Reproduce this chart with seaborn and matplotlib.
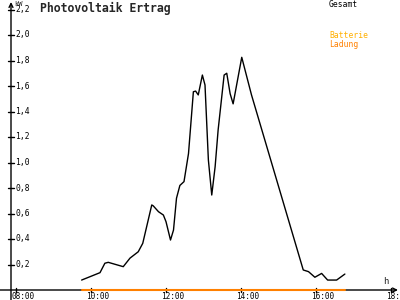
import matplotlib
matplotlib.use("Agg")
import matplotlib.pyplot as plt
import seaborn as sns
import pandas as pd

sns.set_theme(style="white")
plt.rcParams['font.family'] = ['DejaVu Sans Mono', 'DejaVu Sans']

hours = [9.75, 9.97, 10.24, 10.37, 10.46, 10.86, 11.04, 11.26, 11.38, 11.62, 11.66,
         11.8, 11.93, 12.0, 12.12, 12.2, 12.28, 12.37, 12.48, 12.6, 12.73, 12.79,
         12.86, 12.97, 13.04, 13.13, 13.22, 13.31, 13.39, 13.55, 13.62, 13.71,
         13.79, 14.02, 14.28, 15.66, 15.8, 15.97, 16.15, 16.31, 16.55, 16.77]
gesamt = [0.078, 0.104, 0.136, 0.21, 0.217, 0.183, 0.25, 0.30, 0.366, 0.667, 0.66,
          0.614, 0.588, 0.536, 0.392, 0.47, 0.72, 0.82, 0.85, 1.07, 1.555, 1.56,
          1.53, 1.686, 1.608, 1.02, 0.745, 0.967, 1.255, 1.686, 1.70, 1.54,
          1.46, 1.825, 1.53, 0.157, 0.144, 0.1, 0.13, 0.078, 0.078, 0.125]
batterie_ladung = [0.0] * len(hours)

x_ticks = [8, 10, 12, 14, 16, 18]
x_labels = ["08:00", "10:00", "12:00", "14:00", "16:00", "18:"]
y_ticks = [0.2, 0.4, 0.6, 0.8, 1.0, 1.2, 1.4, 1.6, 1.8, 2.0, 2.2]
y_labels = ["0,2", "0,4", "0,6", "0,8", "1,0", "1,2", "1,4", "1,6", "1,8", "2,0", "2,2"]

df = pd.DataFrame({"h": hours, "Gesamt": gesamt, "Ladung": batterie_ladung})

fig = plt.figure(figsize=(4, 3), dpi=100)
ax = fig.add_axes([0, 0, 1, 1])
ax.set_facecolor("white")

# pixel mapping: x_px = 16 + 37.5*(h-8); y_px = 290 - 127.5*v
ax.set_xlim(8 - 16 / 37.5, 8 + 384 / 37.5)
ax.set_ylim(-10 / 127.5, 290 / 127.5)
for s in ax.spines.values():
    s.set_visible(False)
ax.set_xticks([])
ax.set_yticks([])

y_axis_x = 8 - 5 / 37.5
px = 1 / 37.5
py = 1 / 127.5

# axes lines with arrows
ax.annotate("", xy=(y_axis_x, 288 * py), xytext=(y_axis_x, -10 * py),
            arrowprops=dict(arrowstyle="->", color="black", lw=1.0, shrinkA=0, shrinkB=0,
                            mutation_scale=7), annotation_clip=False, zorder=1)
ax.annotate("", xy=(8 + 382 * px, 0), xytext=(8 - 16 * px, 0),
            arrowprops=dict(arrowstyle="->", color="black", lw=1.0, shrinkA=0, shrinkB=0,
                            mutation_scale=7), annotation_clip=False, zorder=1)

# ticks
for v, lab in zip(y_ticks, y_labels):
    ax.plot([y_axis_x - 3 * px, y_axis_x + 3 * px], [v, v], color="black", lw=1.0, zorder=1)
    ax.text(y_axis_x + 4 * px, v, lab, fontsize=5.8, ha="left", va="center", color="black")
for t, lab in zip(x_ticks, x_labels):
    ax.plot([t, t], [-2 * py, 2 * py], color="black", lw=1.0, zorder=1)
    ax.text(t - 4.5 * px, -6.5 * py, lab, fontsize=5.6, ha="left", va="center", color="black")

sns.lineplot(data=df, x="h", y="Ladung", ax=ax, color="#FF8000", lw=1.5, legend=False, zorder=5)
sns.lineplot(data=df, x="h", y="Gesamt", ax=ax, color="black", lw=1.0, legend=False, zorder=6)
ax.set_xlabel("")
ax.set_ylabel("")

fig.text(14 / 400, 1 - 3.5 / 300, "kW", fontsize=5.0, ha="left", va="center")
fig.text(383 / 400, 1 - 282 / 300, "h", fontsize=6.5, ha="left", va="center")
fig.text(40 / 400, 1 - 8 / 300, "Photovoltaik Ertrag", fontsize=8.3, fontweight="bold",
         ha="left", va="center")
fig.text(329 / 400, 1 - 4.5 / 300, "Gesamt", fontsize=5.8, ha="left", va="center", color="black")
fig.text(329 / 400, 1 - 36 / 300, "Batterie", fontsize=5.8, ha="left", va="center", color="#FFB000")
fig.text(329 / 400, 1 - 44 / 300, "Ladung", fontsize=5.8, ha="left", va="center", color="#FF8000")

fig.savefig("out.png", dpi=100, facecolor="white")
